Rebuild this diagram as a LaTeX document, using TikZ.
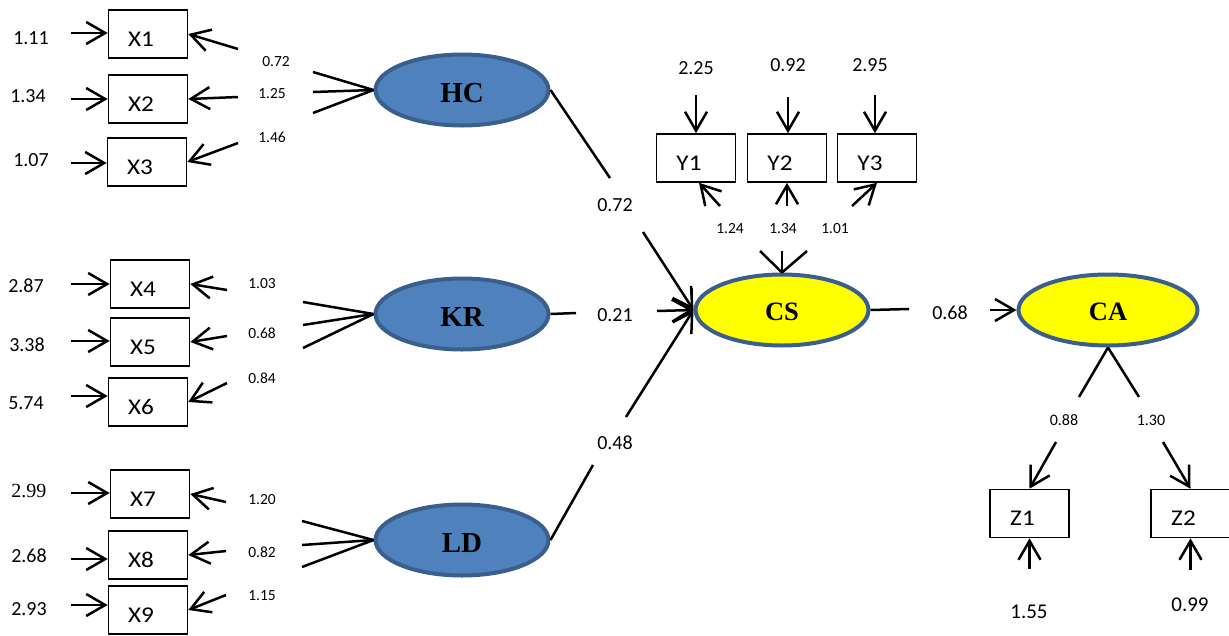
\documentclass[tikz,border=0pt]{standalone}
\usepackage{fontspec}
\setmainfont{Carlito}
\newfontfamily\tnr{Liberation Serif}
\newfontfamily\boxfont{Carlito}[FakeStretch=1.12]
\usetikzlibrary{arrows.meta,shapes.geometric}

\definecolor{latblue}{HTML}{4F81BD}
\definecolor{latedge}{HTML}{3A5F8C}
\definecolor{latyellow}{HTML}{FFFF00}

\tikzset{
  ln/.style={line width=2.5pt},
  arr/.style={ln,-{Straight Barb[length=19pt,width=22pt]}},
  obs/.style={draw,line width=1.6pt,minimum width=79pt,minimum height=48pt,inner sep=0pt},
  lat/.style={ellipse,draw=latedge,line width=4pt,minimum width=173pt,minimum height=71pt,
    inner sep=0pt},
  exo/.style={lat,fill=latblue,font=\tnr\bfseries\fontsize{29}{33}\selectfont,
    text height=25pt,text depth=0pt},
  endo/.style={lat,fill=latyellow,font=\tnr\bfseries\fontsize{26.5}{30}\selectfont,
    text height=21.5pt,text depth=0pt},
  big/.style={font=\fontsize{20}{24}\selectfont,inner sep=0pt},
  small/.style={font=\fontsize{15.5}{18}\selectfont,inner sep=0pt},
  boxlbl/.style={font=\boxfont\fontsize{22.5}{26}\selectfont,inner sep=0pt}
}

\begin{document}
\begin{tikzpicture}[x=1pt,y=-1pt]
\useasboundingbox (0,0) rectangle (1229,635);

% observed indicators, with their names set low and left inside the box
\foreach \n/\x/\y in {X1/148/34, X2/148/99, X3/147/162, X4/150/284, X5/150/342,
    X6/148/402, X7/150/494, X8/148/555, X9/148/610,
    Y1/696/158, Y2/787/158, Y3/877/158, Z1/1029.5/513.5, Z2/1190.5/513.5}
{
  \node[obs] (\n) at (\x,\y) {};
  \node[boxlbl] (\n t) at ([xshift=-7pt,yshift=-5pt]\n.center) {\n};
}

% latent constructs
\node[exo] (HC) at (462,90) {HC};
\node[exo] (KR) at (462,314) {KR};
\node[exo] (LD) at (462,540) {LD};
\node[endo] (CS) at (782,310) {CS};
\node[endo,minimum width=179pt] (CA) at (1108,310) {CA};

% error terms and loadings of the X indicators
\foreach \n/\v/\vx/\vy/\ay/\bx/\by/\w/\wx/\wy in {
    X1/1.11/31/38/33/238/49/0.72/276/62,
    X2/1.34/28/96/99/238/97/1.25/272/94,
    X3/1.07/31/160/163/238/143/1.46/272/137,
    X4/2.87/26/286/284/227/290/1.03/262/284,
    X5/3.38/27/345/341/227/336/0.68/262/333,
    X6/5.74/26/403/396/227/383/0.84/262/378,
    X7/{\tnr 2.99}/29/491/493/226/502/1.20/262/500,
    X8/2.68/29/556/559/226/551/0.82/262/552,
    X9/2.93/29/609/605/226/595/1.15/262/596}
{
  \node[big] (v\n) at (\vx,\vy) {\v};
  \coordinate (a\n) at (71,\ay);
  \draw[arr] (a\n) -- (a\n -| \n.west);
  \coordinate (b\n) at (\bx,\by);
  \draw[arr] (b\n) -- (\n.east);
  \node[small] (w\n) at (\wx,\wy) {\w};
}

% converging lines into the exogenous constructs
\foreach \y [count=\i] in {72,92,113} {
  \coordinate (fh\i) at (313,\y);
  \draw[ln] (fh\i) -- (HC.west);
}
\foreach \y [count=\i] in {302,325,348} {
  \coordinate (fk\i) at (303,\y);
  \draw[ln] (fk\i) -- (KR.west);
}
\foreach \y [count=\i] in {521,545,567} {
  \coordinate (fl\i) at (302,\y);
  \draw[ln] (fl\i) -- (LD.west);
}

% structural paths into CS
\coordinate (p1) at (610,178);
\draw[ln] (HC.east) -- (p1);
\node[big] (c1) at (615,205) {0.72};
\coordinate (q1) at (643,232);
\draw[arr] (q1) -- (CS.west);

\coordinate (p2) at (576,313);
\draw[ln] (KR.east) -- (p2);
\node[big] (c2) at (615,315) {0.21};
\coordinate (q2) at (657,311);
\draw[arr] (q2) -- (CS.west);

\coordinate (p3) at (593,465);
\draw[ln] (LD.east) -- (p3);
\node[big] (c3) at (615,443) {0.48};
\coordinate (q3) at (626,417);
\draw[arr] (q3) -- (CS.west);

\draw[ln] ([xshift=-1.5pt,yshift=22pt]CS.west) -- ([xshift=-1.5pt,yshift=-20pt]CS.west);

% CS to CA
\coordinate (p4) at (909,309);
\draw[ln] (CS.east) -- (p4);
\node[big] (c4) at (950,313) {0.68};
\coordinate (q4) at (990,310);
\draw[arr] (q4) -- (CA.west);

% Y indicators
\foreach \n/\v/\vx/\vy/\tx/\ty in {Y1/2.25/696/68/696/95, Y2/0.92/788/65/788/97, Y3/2.95/870/65/875/95} {
  \node[big] (v\n) at (\vx,\vy) {\v};
  \coordinate (t\n) at (\tx,\ty);
  \draw[arr] (t\n) -- (t\n |- \n.north);
}
\coordinate (uY1) at (720,206);
\draw[arr] (uY1) -- ([xshift=3pt]Y1.south);
\coordinate (uY2) at (787,206);
\draw[arr] (uY2) -- (Y2.south);
\coordinate (uY3) at (852,206);
\draw[arr] (uY3) -- (Y3.south);
\node[small] (wY1) at (730,229) {1.24};
\node[small] (wY2) at (783,229) {1.34};
\node[small] (wY3) at (835,229) {1.01};
\foreach \x [count=\i] in {760,782,807} {
  \coordinate (fc\i) at (\x,251);
  \draw[ln] (fc\i) -- (CS.north);
}

% Z indicators
\coordinate (r1) at (1079,397);
\coordinate (r2) at (1139,397);
\draw[ln] (CA.south) -- (r1);
\draw[ln] (CA.south) -- (r2);
\node[small,font=\fontsize{16}{19}\selectfont] (wZ1) at (1064,420) {0.88};
\node[small,font=\fontsize{16}{19}\selectfont] (wZ2) at (1151,420) {1.30};
\coordinate (s1) at (1056,442);
\draw[arr] (s1) -- (Z1.north);
\coordinate (s2) at (1163,442);
\draw[arr] (s2) -- (Z2.north);
\coordinate (eZ1) at (1029.5,569);
\draw[arr] (eZ1) -- (Z1.south);
\coordinate (eZ2) at (1190.5,570);
\draw[arr] (eZ2) -- (Z2.south);
\node[big,font=\fontsize{21}{25}\selectfont] (vZ1) at (1029,612) {1.55};
\node[big,font=\fontsize{21}{25}\selectfont] (vZ2) at (1190,605) {0.99};
\end{tikzpicture}
\end{document}
